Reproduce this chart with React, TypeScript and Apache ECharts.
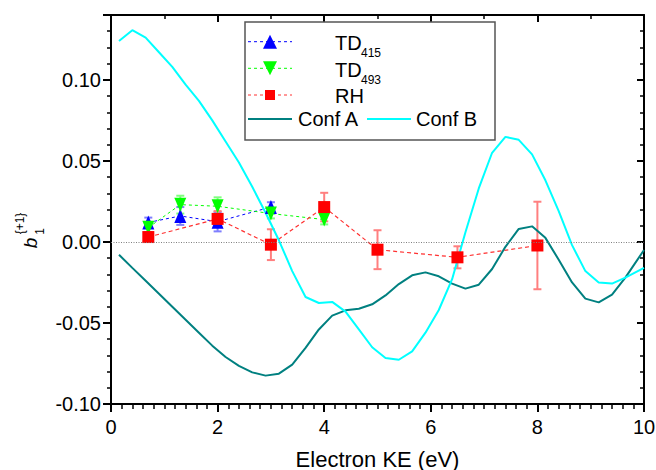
import React, { useEffect, useRef } from 'react';
import * as echarts from 'echarts';

const FONT = '"Liberation Sans", Arial, Helvetica, sans-serif';

// TD415 data
const ke415 = [0.7, 1.3, 2, 3];
const td415 = [0.012, 0.016, 0.0125, 0.0215];
const td415Err = [0.003, 0.0055, 0.006, 0.003];

// TD493 data
const ke493 = [0.7, 1.3, 2, 3, 4];
const td493 = [0.0088, 0.023, 0.022, 0.0175, 0.0138];
const td493Err = [0.003, 0.0055, 0.0055, 0.003, 0.003];

// RH data
const keRH = [0.7, 2, 3, 4, 5, 6.5, 8];
const rh = [0.003, 0.0142, -0.0017, 0.0215, -0.0048, -0.0095, -0.0022];
const rhErr = [0.003, 0.0048, 0.0095, 0.0088, 0.012, 0.0068, 0.027];

// Calculated curves
const keCalc = [
  0.15, 0.4, 0.65, 0.9, 1.15, 1.4, 1.65, 1.9, 2.15, 2.4,
  2.65, 2.9, 3.15, 3.4, 3.65, 3.9, 4.15, 4.4, 4.65, 4.9,
  5.15, 5.4, 5.65, 5.9, 6.15, 6.4, 6.65, 6.9, 7.15, 7.4,
  7.65, 7.9, 8.15, 8.4, 8.65, 8.9, 9.15, 9.4, 9.65, 10,
];
const confA = [
  -0.0079, -0.016, -0.024, -0.032, -0.040, -0.048, -0.056, -0.064, -0.071, -0.0765,
  -0.0805, -0.0825, -0.0813, -0.0757, -0.0654, -0.054, -0.0455, -0.0422, -0.0412, -0.0385,
  -0.033, -0.026, -0.0206, -0.0188, -0.0212, -0.0257, -0.0288, -0.0264, -0.0167, -0.003,
  0.008, 0.0096, 0.0025, -0.011, -0.025, -0.035, -0.0373, -0.0325, -0.022, -0.005,
];
const confB = [
  0.124, 0.1306, 0.126, 0.117, 0.108, 0.097, 0.087, 0.075, 0.062, 0.049,
  0.034, 0.018, 0.001, -0.018, -0.034, -0.0377, -0.037, -0.043, -0.054, -0.065,
  -0.0716, -0.0727, -0.0675, -0.056, -0.042, -0.023, 0.006, 0.033, 0.055, 0.0648,
  0.063, 0.054, 0.038, 0.019, -0.002, -0.018, -0.025, -0.0257, -0.022, -0.016,
];

const xTicks = { min: 0, max: 10, interval: 2 };
const yRange = { min: -0.1, max: 0.14 };

const pairs = (xs: number[], ys: number[]) => xs.map((x, i) => [x, ys[i]]);
const errData = (xs: number[], ys: number[], es: number[]) =>
  xs.map((x, i) => [x, ys[i] - es[i], ys[i] + es[i]]);

function errSeries(data: number[][], color: string) {
  return {
    type: 'custom',
    data,
    silent: true,
    encode: { x: 0, y: [1, 2] },
    renderItem: (_p: any, api: any) => {
      const x = api.value(0);
      const lo = api.coord([x, api.value(1)]);
      const hi = api.coord([x, api.value(2)]);
      const w = 4;
      const st = { stroke: color, lineWidth: 2 };
      return {
        type: 'group',
        children: [
          { type: 'line', shape: { x1: lo[0], y1: lo[1], x2: hi[0], y2: hi[1] }, style: st },
          { type: 'line', shape: { x1: lo[0] - w, y1: lo[1], x2: lo[0] + w, y2: lo[1] }, style: st },
          { type: 'line', shape: { x1: hi[0] - w, y1: hi[1], x2: hi[0] + w, y2: hi[1] }, style: st },
        ],
      };
    },
  };
}

const axisLine = { show: true, onZero: false, lineStyle: { color: '#000', width: 2 } };

export default function App() {
  const ref = useRef<HTMLDivElement>(null);
  useEffect(() => {
    const chart = echarts.init(ref.current!, null, { renderer: 'svg' });
    const rows = [41.7, 68.3, 95, 119];
    const txt = (text: string, x: number, y: number, size: number, extra: any = {}) => ({
      type: 'text',
      x,
      y,
      z: 101,
      style: {
        text,
        fill: '#000',
        fontSize: size,
        fontFamily: FONT,
        align: 'left',
        verticalAlign: 'middle',
        ...extra,
      },
    });
    const option: any = {
      animation: false,
      backgroundColor: '#fff',
      textStyle: { fontFamily: FONT },
      grid: { left: 111, right: 12, top: 15, bottom: 66, containLabel: false, outerBoundsMode: 'none' },
      xAxis: [
        {
          type: 'value',
          ...xTicks,
          position: 'bottom',
          axisLine,
          axisTick: { show: true, length: 8, lineStyle: { color: '#000', width: 2 } },
          minorTick: { show: true, splitNumber: 10, length: 5, lineStyle: { color: '#000', width: 1.5 } },
          axisLabel: { fontSize: 20, color: '#000', margin: 13, fontFamily: FONT },
          splitLine: { show: false },
          name: 'Electron KE (eV)',
          nameLocation: 'middle',
          nameGap: 44,
          nameTextStyle: { fontSize: 22, color: '#000', fontFamily: FONT },
        },
        {
          type: 'value',
          ...xTicks,
          position: 'top',
          axisLine,
          axisTick: { show: true, inside: true, length: 7, lineStyle: { color: '#000', width: 2 } },
          minorTick: { show: true, splitNumber: 2, length: 4, lineStyle: { color: '#000', width: 1.5 } },
          axisLabel: { show: false },
          splitLine: { show: false },
        },
      ],
      yAxis: [
        {
          type: 'value',
          ...yRange,
          interval: 0.01,
          position: 'left',
          axisLine,
          axisTick: { show: true, length: 4, lineStyle: { color: '#000', width: 1.5 } },
          axisLabel: {
            fontSize: 20,
            color: '#000',
            margin: 10,
            fontFamily: FONT,
            formatter: (v: number) => {
              const k = Math.round(v * 100);
              return k % 5 === 0 ? (k / 100).toFixed(2) : '';
            },
          },
          splitLine: { show: false },
        },
        {
          type: 'value',
          ...yRange,
          interval: 0.05,
          position: 'left',
          axisLine: { show: false, onZero: false },
          axisTick: { show: true, length: 8, lineStyle: { color: '#000', width: 2 } },
          axisLabel: { show: false },
          splitLine: { show: false },
        },
        {
          type: 'value',
          ...yRange,
          interval: 0.01,
          position: 'right',
          axisLine,
          axisTick: { show: true, inside: true, length: 4, lineStyle: { color: '#000', width: 1.5 } },
          axisLabel: { show: false },
          splitLine: { show: false },
        },
        {
          type: 'value',
          ...yRange,
          interval: 0.05,
          position: 'right',
          axisLine: { show: false, onZero: false },
          axisTick: { show: true, inside: true, length: 7, lineStyle: { color: '#000', width: 2 } },
          axisLabel: { show: false },
          splitLine: { show: false },
        },
      ],
      series: [
        errSeries(errData(ke415, td415, td415Err), '#7f7fff'),
        {
          name: 'TD415',
          type: 'line',
          data: pairs(ke415, td415),
          symbol: 'triangle',
          symbolSize: [12, 14],
          itemStyle: { color: '#0000ff' },
          lineStyle: { color: '#0000ff', width: 1, type: [3, 3] },
          markLine: {
            silent: true,
            symbol: ['none', 'none'],
            label: { show: false },
            lineStyle: { color: '#808080', type: [1, 1.5], width: 1 },
            data: [{ yAxis: 0 }],
          },
        },
        errSeries(errData(ke493, td493, td493Err), '#7fff7f'),
        {
          name: 'TD493',
          type: 'line',
          data: pairs(ke493, td493),
          symbol: 'triangle',
          symbolRotate: 180,
          symbolSize: [12, 14],
          itemStyle: { color: '#00ff00' },
          lineStyle: { color: '#00ff00', width: 1, type: [3, 3] },
        },
        errSeries(errData(keRH, rh, rhErr), '#ff7f7f'),
        {
          name: 'RH',
          type: 'line',
          data: pairs(keRH, rh),
          symbol: 'rect',
          symbolSize: 12,
          itemStyle: { color: '#ff0000' },
          lineStyle: { color: '#ff3030', width: 1.2, type: [4, 3] },
        },
        {
          name: 'Conf A',
          type: 'line',
          data: pairs(keCalc, confA),
          showSymbol: false,
          symbol: 'none',
          lineStyle: { color: '#008080', width: 2 },
          itemStyle: { color: '#008080' },
        },
        {
          name: 'Conf B',
          type: 'line',
          data: pairs(keCalc, confB),
          showSymbol: false,
          symbol: 'none',
          lineStyle: { color: '#00ffff', width: 2 },
          itemStyle: { color: '#00ffff' },
        },
      ],
      graphic: [
        // y-axis title
        { type: 'text', x: 30, y: 243, rotation: Math.PI / 2, z: 101,
          style: { text: 'b', fill: '#000', fontSize: 19, fontStyle: 'italic', fontFamily: FONT, align: 'center', verticalAlign: 'middle' } },
        { type: 'text', x: 40, y: 231.5, rotation: Math.PI / 2, z: 101,
          style: { text: '1', fill: '#000', fontSize: 12, fontFamily: FONT, align: 'center', verticalAlign: 'middle' } },
        { type: 'text', x: 20, y: 223.5, rotation: Math.PI / 2, z: 101,
          style: { text: '{+1}', fill: '#000', fontSize: 12, fontFamily: FONT, align: 'center', verticalAlign: 'middle' } },
        // legend box
        { type: 'rect', z: 100, shape: { x: 245, y: 22, width: 250, height: 118 },
          style: { fill: '#fff', stroke: '#555', lineWidth: 1.5 } },
        { type: 'line', z: 101, shape: { x1: 248, y1: rows[0], x2: 292, y2: rows[0] },
          style: { stroke: '#0000ff', lineWidth: 1, lineDash: [3, 3] } },
        { type: 'polygon', z: 102, shape: { points: [[263, rows[0] + 7], [277, rows[0] + 7], [270, rows[0] - 7]] },
          style: { fill: '#0000ff' } },
        { type: 'line', z: 101, shape: { x1: 248, y1: rows[1], x2: 292, y2: rows[1] },
          style: { stroke: '#00ff00', lineWidth: 1, lineDash: [3, 3] } },
        { type: 'polygon', z: 102, shape: { points: [[263, rows[1] - 7], [277, rows[1] - 7], [270, rows[1] + 7]] },
          style: { fill: '#00ff00' } },
        { type: 'line', z: 101, shape: { x1: 248, y1: rows[2], x2: 292, y2: rows[2] },
          style: { stroke: '#ff3030', lineWidth: 1, lineDash: [3, 3] } },
        { type: 'rect', z: 102, shape: { x: 265, y: rows[2] - 5, width: 10, height: 10 },
          style: { fill: '#ff0000' } },
        { type: 'line', z: 101, shape: { x1: 248, y1: rows[3], x2: 292, y2: rows[3] },
          style: { stroke: '#008080', lineWidth: 2 } },
        { type: 'line', z: 101, shape: { x1: 367, y1: rows[3], x2: 411, y2: rows[3] },
          style: { stroke: '#00ffff', lineWidth: 2 } },
        txt('TD', 335, rows[0] + 1.5, 20),
        txt('415', 361, rows[0] + 11.5, 12),
        txt('TD', 335, rows[1] + 1.5, 20),
        txt('493', 361, rows[1] + 11.5, 12),
        txt('RH', 335, rows[2] + 0.5, 20),
        txt('Conf A', 298, rows[3], 20),
        txt('Conf B', 416, rows[3], 20),
      ],
    };
    chart.setOption(option);
    return () => chart.dispose();
  }, []);
  return (
    <div
      ref={ref}
      style={{ position: 'fixed', left: 0, top: 0, width: 656, height: 470 }}
    />
  );
}
